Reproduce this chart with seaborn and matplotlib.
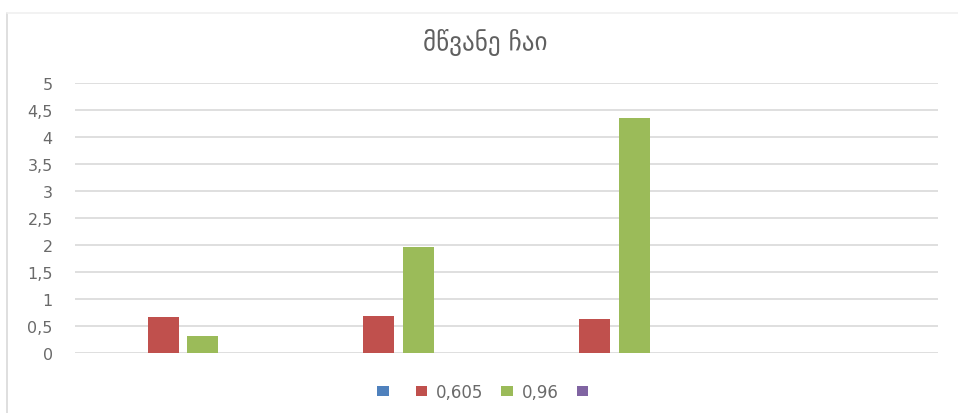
import matplotlib
matplotlib.use("Agg")
import matplotlib.pyplot as plt
import seaborn as sns
import pandas as pd
import numpy as np
from matplotlib.patches import Patch
from matplotlib.ticker import FuncFormatter

title = "მწვანე ჩაი"
categories = ["1", "2", "3", "4"]
series_names = ["s1", "0,605", "0,96", "s4"]
legend_labels = ["", "0,605", "0,96", ""]
colors = ["#4F81BD", "#C0504D", "#9BBB59", "#8064A2"]
s1_values = [0, 0, 0, 0]
red_values = [0.67, 0.68, 0.63, 0]
green_values = [0.32, 1.97, 4.36, 0]
s4_values = [0, 0, 0, 0]
y_ticks = [0, 0.5, 1, 1.5, 2, 2.5, 3, 3.5, 4, 4.5, 5]

rows = []
for name, vals in zip(series_names, [s1_values, red_values, green_values, s4_values]):
    for c, v in zip(categories, vals):
        rows.append({"cat": c, "series": name, "value": v})
df = pd.DataFrame(rows)

sns.set_style("white")
plt.rcParams["font.family"] = ["DejaVu Sans"]

fig = plt.figure(figsize=(9.58, 4.14), dpi=100)
ax = fig.add_axes([75/958, 1-354/414, (938-75)/958, (354-84)/414])

sns.barplot(data=df, x="cat", y="value", hue="series", order=categories,
            hue_order=series_names, palette=colors, width=0.73, gap=0.21,
            saturation=1, linewidth=0, errorbar=None, legend=False, ax=ax, zorder=3)

ax.set_ylim(0, 5)
ax.set_xlim(-0.5, 3.5)
ax.set_yticks(y_ticks)
ax.yaxis.set_major_formatter(FuncFormatter(lambda v, p: (f"{v:g}").replace(".", ",")))
ax.set_xticks([])
ax.set_xlabel("")
ax.set_ylabel("")
ax.tick_params(axis="y", length=0, pad=16, labelsize=11.5, labelcolor="#6a6a6a")
ax.grid(axis="y", color="#d9d9d9", linewidth=1.2, zorder=0)
ax.set_axisbelow(True)
for s in ax.spines.values():
    s.set_visible(False)

fig.text(485/958, 1-43/414, title, ha="center", va="center", fontsize=18, color="#606060")

handles = [Patch(facecolor=c, edgecolor="none") for c in colors]
fig.legend(handles, legend_labels, loc="center", bbox_to_anchor=(487/958, 1-393/414),
           ncol=4, frameon=False, fontsize=12, labelcolor="#6a6a6a",
           handlelength=0.7, handleheight=0.6, handletextpad=0.5, columnspacing=1.1)

# chart border
fig.add_artist(plt.Line2D([7/958, 7/958], [0, 1-14/414], color="#d9d9d9", linewidth=1.2, transform=fig.transFigure))
fig.add_artist(plt.Line2D([7/958, 1], [1-14/414, 1-14/414], color="#f0f0f0", linewidth=1.2, transform=fig.transFigure))

fig.savefig("out.png", dpi=100)
